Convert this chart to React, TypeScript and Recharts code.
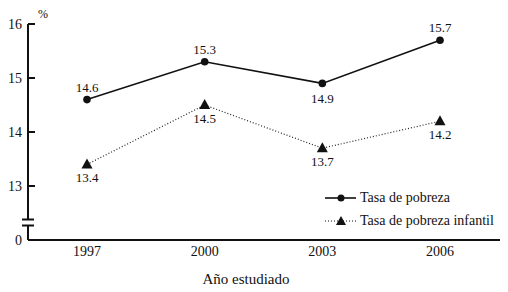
import React from 'react';
import { LineChart, Line, XAxis, YAxis, LabelList } from 'recharts';

const years = ['1997', '2000', '2003', '2006'];
const pobreza = [14.6, 15.3, 14.9, 15.7];
const pobrezaInfantil = [13.4, 14.5, 13.7, 14.2];
const pobrezaLabelSide = ['top', 'top', 'bottom', 'top'];
const yTicks = [12, 13, 14, 15, 16];

const data = years.map((year, i) => ({
  year,
  pobreza: pobreza[i],
  infantil: pobrezaInfantil[i],
}));

const FONT = 'Liberation Serif, DejaVu Serif, serif';
const txt = { fontFamily: FONT };

const YTick = (props: any) => {
  const { y, payload } = props;
  const v = payload.value;
  return (
    <g>
      {v !== 12 && <line x1={28} x2={35} y1={y} y2={y} stroke="#111" strokeWidth={2} />}
      <text x={22} y={y} dy={5} textAnchor="end" fontSize={14} style={txt} fill="#111">
        {v === 12 ? '0' : v}
      </text>
    </g>
  );
};

const XTick = (props: any) => {
  const { x, y, payload } = props;
  return (
    <text x={x} y={y + 8} textAnchor="middle" fontSize={14} style={txt} fill="#111">
      {payload.value}
    </text>
  );
};

const Triangle = (props: any) => {
  const { cx, cy, index } = props;
  if (cx == null || cy == null) return <g key={index} />;
  return <polygon key={index} points={`${cx},${cy - 6} ${cx - 5.5},${cy + 4} ${cx + 5.5},${cy + 4}`} fill="#111" />;
};

const PobrezaLabel = (props: any) => {
  const { x, y, value, index } = props;
  const below = pobrezaLabelSide[index] === 'bottom';
  return (
    <text x={x} y={below ? y + 20 : y - 8} textAnchor="middle" fontSize={13} style={txt} fill="#111">
      {Number(value).toFixed(1)}
    </text>
  );
};

const InfantilLabel = (props: any) => {
  const { x, y, value } = props;
  return (
    <text x={x} y={y + 18} textAnchor="middle" fontSize={13} style={txt} fill="#111">
      {Number(value).toFixed(1)}
    </text>
  );
};

export default function App() {
  return (
    <div style={{ position: 'absolute', left: 0, top: 0, width: 508, height: 292, background: '#fff' }}>
      <LineChart width={508} height={292} data={data} margin={{ top: 24, right: 8, left: 0, bottom: 22 }}>
        <XAxis
          dataKey="year"
          height={30}
          padding={{ left: 59, right: 60 }}
          axisLine={{ stroke: '#111', strokeWidth: 2 }}
          tickLine={false}
          tick={<XTick />}
        />
        <YAxis
          width={28}
          domain={[12, 16]}
          ticks={yTicks}
          allowDataOverflow
          axisLine={{ stroke: '#111', strokeWidth: 2 }}
          tickLine={false}
          tick={<YTick />}
        />
        <Line
          dataKey="pobreza"
          name="Tasa de pobreza"
          stroke="#111"
          strokeWidth={1.6}
          dot={{ r: 3.8, fill: '#111', stroke: '#111', strokeWidth: 0 }}
          isAnimationActive={false}
        >
          <LabelList dataKey="pobreza" content={<PobrezaLabel />} />
        </Line>
        <Line
          dataKey="infantil"
          name="Tasa de pobreza infantil"
          stroke="#222"
          strokeWidth={1.2}
          strokeDasharray="1 2"
          dot={<Triangle />}
          isAnimationActive={false}
        >
          <LabelList dataKey="infantil" content={<InfantilLabel />} />
        </Line>
      </LineChart>
      <svg width={508} height={292} style={{ position: 'absolute', left: 0, top: 0, pointerEvents: 'none' }}>
        <rect x={25} y={219} width={6} height={7} fill="#fff" />
        <line x1={22} x2={34} y1={219.5} y2={219.5} stroke="#111" strokeWidth={2} />
        <line x1={22} x2={34} y1={225.5} y2={225.5} stroke="#111" strokeWidth={2} />
        <text x={38} y={18} fontSize={12} style={txt} fill="#111">%</text>
        <text x={246} y={284} textAnchor="middle" fontSize={15} style={txt} fill="#111">Año estudiado</text>
        <g transform="translate(325,198)">
          <line x1={0} x2={31} y1={0} y2={0} stroke="#111" strokeWidth={1.6} />
          <circle cx={16} cy={0} r={3.5} fill="#111" />
          <text x={35} y={4} fontSize={14} style={txt} fill="#111">Tasa de pobreza</text>
          <line x1={0} x2={31} y1={23} y2={23} stroke="#111" strokeWidth={1.2} strokeDasharray="1 2" />
          <polygon points="16,18 11,27 21,27" fill="#111" />
          <text x={35} y={27} fontSize={14} style={txt} fill="#111">Tasa de pobreza infantil</text>
        </g>
      </svg>
    </div>
  );
}
